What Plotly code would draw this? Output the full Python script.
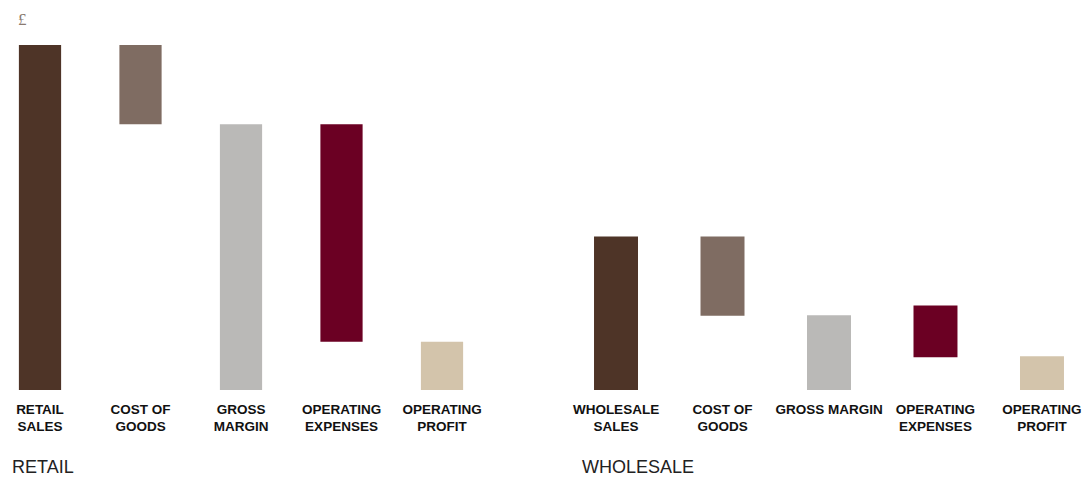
import plotly.graph_objects as go

retail_labels = ["RETAIL<br>SALES", "COST OF<br>GOODS", "GROSS<br>MARGIN", "OPERATING<br>EXPENSES", "OPERATING<br>PROFIT"]
retail_values = [100, 23, 77, 63, 14]
retail_bases = [0, 77, 0, 14, 0]

wholesale_labels = ["WHOLESALE<br>SALES", "COST OF<br>GOODS", "GROSS MARGIN", "OPERATING<br>EXPENSES", "OPERATING<br>PROFIT"]
wholesale_values = [44.5, 23, 21.7, 15, 9.8]
wholesale_bases = [0, 21.5, 0, 9.5, 0]

colors = ["#4e3427", "#7f6c62", "#bab9b7", "#6b0023", "#d3c4ab"]

FONT = "Liberation Sans, Arial, sans-serif"

fig = go.Figure()
fig.add_trace(go.Bar(x=list(range(5)), y=retail_values, base=retail_bases,
                     marker=dict(color=colors, line=dict(width=0)), width=0.42,
                     xaxis="x", yaxis="y", hoverinfo="skip", showlegend=False))
fig.add_trace(go.Bar(x=list(range(5)), y=wholesale_values, base=wholesale_bases,
                     marker=dict(color=colors, line=dict(width=0)), width=0.413,
                     xaxis="x2", yaxis="y2", hoverinfo="skip", showlegend=False))

W, H = 1085, 477
y_dom = [(H - 390) / H, (H - 45) / H]
tickfont = dict(family=FONT, size=13.5, color="#111111", weight="bold")

fig.update_layout(
    width=W, height=H,
    margin=dict(l=0, r=0, t=0, b=0),
    paper_bgcolor="white", plot_bgcolor="white",
    xaxis=dict(domain=[0, 500 / W], range=[-0.398, 4.577], tickmode="array",
               tickvals=list(range(5)), ticktext=retail_labels, showgrid=False,
               zeroline=False, showline=False, ticks="", tickfont=tickfont,
               anchor="y", tickangle=0, ticklabelstandoff=9),
    yaxis=dict(domain=y_dom, range=[0, 100], visible=False),
    xaxis2=dict(domain=[560 / W, 1.0], range=[-0.526, 4.404], tickmode="array",
                tickvals=list(range(5)), ticktext=wholesale_labels, showgrid=False,
                zeroline=False, showline=False, ticks="", tickfont=tickfont,
                anchor="y2", tickangle=0, ticklabelstandoff=9),
    yaxis2=dict(domain=y_dom, range=[0, 100], visible=False, anchor="x2"),
    annotations=[
        dict(text="£", x=16 / W, y=1 - 19 / H, xref="paper", yref="paper",
             xanchor="left", yanchor="middle", showarrow=False,
             font=dict(family="Liberation Serif, Times New Roman, serif", size=17, color="#8a7a70")),
        dict(text="RETAIL", x=10 / W, y=1 - 467 / H, xref="paper", yref="paper",
             xanchor="left", yanchor="middle", showarrow=False,
             font=dict(family=FONT, size=18, color="#222222")),
        dict(text="WHOLESALE", x=580 / W, y=1 - 467 / H, xref="paper", yref="paper",
             xanchor="left", yanchor="middle", showarrow=False,
             font=dict(family=FONT, size=18, color="#222222")),
    ],
)

fig.write_html("out.html")
